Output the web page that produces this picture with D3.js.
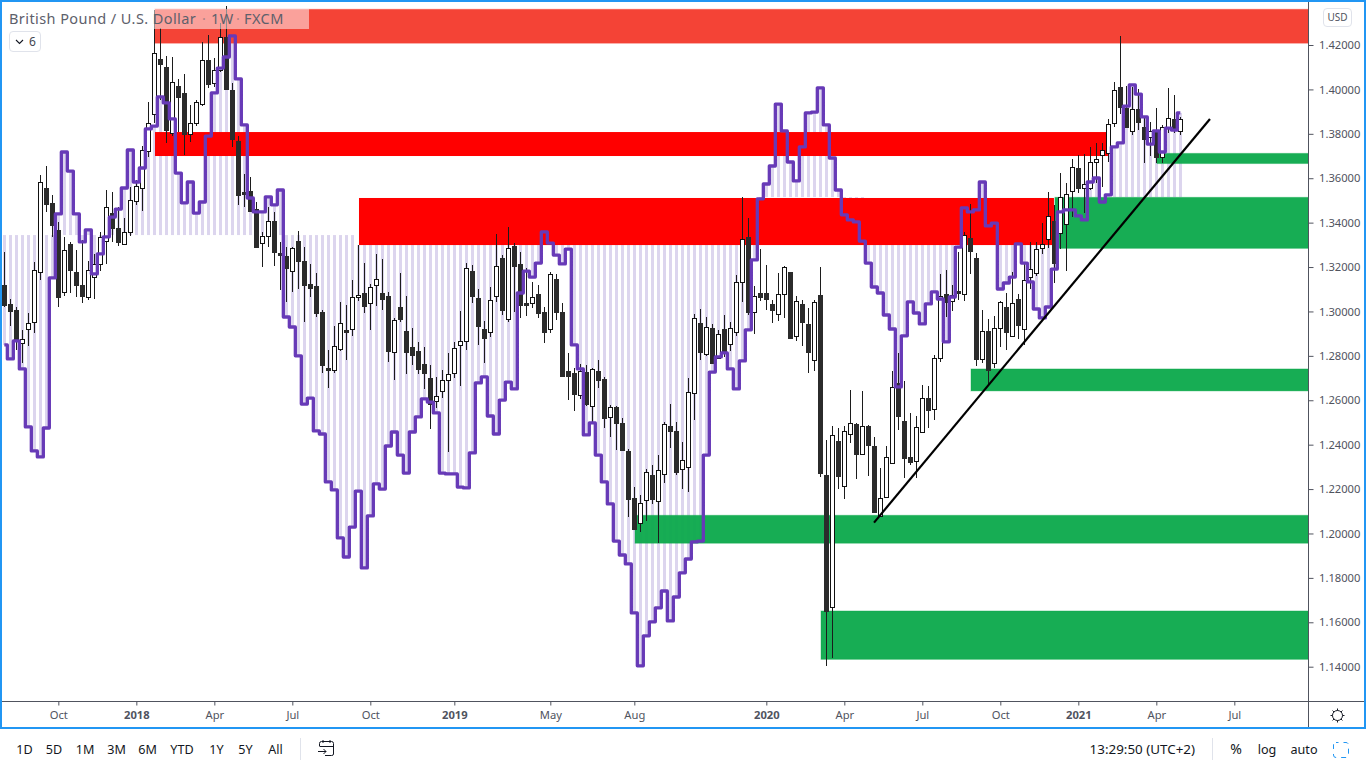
<!DOCTYPE html>
<html><head><meta charset="utf-8">
<script src="https://cdn.jsdelivr.net/npm/d3@7/dist/d3.min.js"></script>
<style>
html,body{margin:0;padding:0;background:#fff;overflow:hidden}
svg{display:block;position:absolute;left:0;top:0}
text{font-family:"Noto Sans",Roboto,sans-serif}
</style></head><body>
<svg id="c" width="1366" height="768"></svg>
<script>
const opens=[1.3119,1.3034,1.3007,1.2858,1.2921,1.2953,1.3178,1.3556,1.3489,1.3367,1.3088,1.3304,1.3178,1.3119,1.3065,1.3155,1.3214,1.3317,1.3443,1.3376,1.3304,1.3358,1.3498,1.3556,1.3723,1.3889,1.4137,1.4101,1.3804,1.4016,1.3984,1.3799,1.3849,1.3934,1.4132,1.4029,1.4087,1.4236,1.3997,1.3768,1.3538,1.3542,1.3461,1.3309,1.3340,1.3407,1.3263,1.3250,1.3182,1.3317,1.3227,1.3124,1.3115,1.2998,1.2745,1.2736,1.2831,1.2917,1.2921,1.3065,1.3083,1.3038,1.3119,1.3083,1.3070,1.2817,1.3020,1.2912,1.2840,1.2822,1.2763,1.2700,1.2597,1.2642,1.2691,1.2723,1.2849,1.2867,1.3182,1.3061,1.2921,1.2908,1.3070,1.3241,1.2966,1.3295,1.3214,1.3038,1.3038,1.3079,1.2998,1.2921,1.3146,1.2998,1.2732,1.2723,1.2624,1.2727,1.2574,1.2732,1.2696,1.2525,1.2570,1.2498,1.2372,1.2160,1.2047,1.2151,1.2263,1.2146,1.2268,1.2484,1.2462,1.2290,1.2299,1.2633,1.2948,1.2808,1.2926,1.2790,1.2921,1.2853,1.2908,1.3133,1.3336,1.2998,1.3083,1.3083,1.3034,1.2989,1.3079,1.3178,1.2890,1.3034,1.2944,1.2781,1.3074,1.2263,1.1670,1.2417,1.2214,1.2448,1.2493,1.2358,1.2484,1.2394,1.2079,1.2164,1.2318,1.2678,1.2507,1.2344,1.2327,1.2457,1.2610,1.2561,1.2790,1.3079,1.3047,1.3092,1.3079,1.3331,1.3241,1.2786,1.2912,1.2768,1.2926,1.3020,1.2890,1.3056,1.2921,1.3155,1.3173,1.3286,1.3326,1.3407,1.3353,1.3394,1.3542,1.3646,1.3556,1.3556,1.3673,1.3705,1.3714,1.3849,1.4011,1.3916,1.3813,1.3912,1.3831,1.3786,1.3813,1.3696,1.3831,1.3867,1.3813];
const highs=[1.3268,1.3056,1.3020,1.2917,1.2993,1.3223,1.3615,1.3655,1.3525,1.3403,1.3336,1.3313,1.3277,1.3322,1.3227,1.3259,1.3358,1.3547,1.3538,1.3470,1.3421,1.3561,1.3592,1.3745,1.3943,1.4358,1.4277,1.4151,1.4146,1.4047,1.4070,1.3930,1.3952,1.4214,1.4245,1.4142,1.4299,1.4376,1.4029,1.3790,1.3619,1.3605,1.3493,1.3358,1.3470,1.3448,1.3313,1.3290,1.3290,1.3362,1.3290,1.3214,1.3173,1.3007,1.2826,1.2935,1.3043,1.3029,1.3142,1.3299,1.3218,1.3124,1.3259,1.3236,1.3088,1.2971,1.3173,1.3070,1.2926,1.2863,1.2840,1.2759,1.2705,1.2736,1.2813,1.2863,1.3002,1.3218,1.3209,1.3101,1.2957,1.3110,1.3349,1.3254,1.3380,1.3308,1.3268,1.3196,1.3133,1.3119,1.3020,1.3178,1.3169,1.3038,1.2813,1.2745,1.2763,1.2759,1.2745,1.2781,1.2705,1.2579,1.2574,1.2520,1.2380,1.2209,1.2173,1.2290,1.2308,1.2353,1.2502,1.2583,1.2502,1.2412,1.2700,1.2989,1.3011,1.2975,1.2944,1.2917,1.2984,1.2953,1.3164,1.3516,1.3421,1.3115,1.3281,1.3209,1.3052,1.3173,1.3205,1.3178,1.3070,1.3052,1.3016,1.3052,1.3200,1.2421,1.2484,1.2475,1.2484,1.2646,1.2498,1.2642,1.2489,1.2435,1.2295,1.2394,1.2732,1.2813,1.2687,1.2543,1.2529,1.2669,1.2664,1.2804,1.3169,1.3187,1.3119,1.3268,1.3358,1.3484,1.3263,1.3007,1.2966,1.2980,1.3047,1.3083,1.3178,1.3079,1.3218,1.3313,1.3313,1.3399,1.3538,1.3480,1.3623,1.3578,1.3687,1.3705,1.3709,1.3741,1.3759,1.3759,1.3867,1.4034,1.4241,1.4016,1.4011,1.4002,1.3876,1.3853,1.3916,1.3840,1.4007,1.3975,1.3876];
const lows=[1.3020,1.2935,1.2826,1.2768,1.2845,1.2903,1.3142,1.3448,1.3336,1.3020,1.3070,1.3083,1.3065,1.3038,1.3052,1.3056,1.3182,1.3214,1.3313,1.3295,1.3304,1.3340,1.3480,1.3453,1.3696,1.3849,1.3952,1.3759,1.3790,1.3808,1.3705,1.3763,1.3835,1.3925,1.4007,1.4011,1.4078,1.3997,1.3741,1.3480,1.3470,1.3448,1.3290,1.3200,1.3290,1.3205,1.3097,1.3043,1.3088,1.3101,1.2953,1.3065,1.2975,1.2723,1.2655,1.2723,1.2822,1.2781,1.2890,1.3047,1.2993,1.2917,1.3025,1.3007,1.2772,1.2691,1.2953,1.2718,1.2759,1.2718,1.2651,1.2471,1.2565,1.2610,1.2367,1.2700,1.2664,1.2826,1.3038,1.2849,1.2768,1.2885,1.3043,1.2984,1.2953,1.2998,1.2971,1.2980,1.3016,1.2971,1.2858,1.2903,1.2962,1.2705,1.2601,1.2552,1.2606,1.2574,1.2498,1.2655,1.2475,1.2435,1.2376,1.2372,1.2074,1.2016,1.2007,1.2056,1.2133,1.1957,1.2227,1.2385,1.2263,1.2200,1.2187,1.2511,1.2781,1.2799,1.2768,1.2786,1.2795,1.2822,1.2890,1.3043,1.2984,1.2899,1.3047,1.3007,1.2948,1.2957,1.2971,1.2876,1.2867,1.2845,1.2723,1.2732,1.2254,1.1404,1.1440,1.2200,1.2155,1.2408,1.2245,1.2358,1.2259,1.2097,1.2079,1.2160,1.2318,1.2466,1.2250,1.2308,1.2250,1.2457,1.2475,1.2511,1.2772,1.2975,1.3002,1.3052,1.3047,1.3169,1.2754,1.2768,1.2669,1.2745,1.2840,1.2826,1.2890,1.2876,1.2849,1.3101,1.3160,1.3259,1.3286,1.3128,1.3281,1.3182,1.3425,1.3533,1.3443,1.3547,1.3579,1.3561,1.3673,1.3831,1.3889,1.3831,1.3795,1.3817,1.3669,1.3700,1.3669,1.3669,1.3804,1.3804,1.3795];
const closes=[1.3029,1.3002,1.2872,1.2876,1.2948,1.3187,1.3583,1.3484,1.3390,1.3065,1.3277,1.3187,1.3119,1.3070,1.3187,1.3214,1.3336,1.3470,1.3376,1.3313,1.3358,1.3502,1.3565,1.3727,1.3849,1.4164,1.4115,1.3817,1.4034,1.3966,1.3799,1.3849,1.3943,1.4132,1.4025,1.4087,1.4236,1.4002,1.3777,1.3525,1.3529,1.3452,1.3290,1.3340,1.3407,1.3268,1.3254,1.3196,1.3286,1.3227,1.3119,1.3106,1.2993,1.2759,1.2736,1.2845,1.2948,1.2908,1.3065,1.3074,1.3025,1.3110,1.3146,1.3056,1.2822,1.2962,1.2966,1.2817,1.2804,1.2741,1.2723,1.2583,1.2619,1.2691,1.2718,1.2835,1.2867,1.3196,1.3070,1.2935,1.2881,1.3052,1.3205,1.3007,1.3286,1.3205,1.3029,1.3029,1.3065,1.2993,1.2908,1.3169,1.2998,1.2709,1.2709,1.2628,1.2732,1.2583,1.2741,1.2691,1.2520,1.2570,1.2498,1.2376,1.2155,1.2020,1.2137,1.2277,1.2155,1.2286,1.2493,1.2462,1.2277,1.2331,1.2637,1.2971,1.2817,1.2930,1.2768,1.2899,1.2822,1.2926,1.3133,1.3326,1.2998,1.3070,1.3065,1.3056,1.3007,1.3079,1.3200,1.2881,1.3047,1.2953,1.2817,1.3043,1.2272,1.1652,1.2444,1.2259,1.2462,1.2498,1.2358,1.2484,1.2399,1.2097,1.2160,1.2344,1.2660,1.2529,1.2340,1.2322,1.2480,1.2610,1.2556,1.2790,1.3070,1.3043,1.3074,1.3083,1.3344,1.3272,1.2786,1.2912,1.2736,1.2926,1.3043,1.2908,1.3038,1.2939,1.3142,1.3191,1.3281,1.3304,1.3430,1.3218,1.3516,1.3529,1.3650,1.3556,1.3574,1.3673,1.3687,1.3727,1.3844,1.3997,1.3921,1.3831,1.3912,1.3853,1.3777,1.3813,1.3696,1.3831,1.3871,1.3826,1.3867];
const lagging=[1.2849,1.2786,1.2867,1.2741,1.2480,1.2372,1.2345,1.2475,1.3151,1.3439,1.3718,1.3632,1.3439,1.3313,1.3367,1.3169,1.3259,1.3336,1.3425,1.3461,1.3556,1.3727,1.3583,1.3646,1.3822,1.3835,1.3966,1.3939,1.3867,1.3623,1.3489,1.3583,1.3443,1.3493,1.3790,1.3984,1.4096,1.4146,1.4241,1.4047,1.3840,1.3511,1.3448,1.3448,1.3516,1.3480,1.3547,1.2975,1.2930,1.2800,1.2583,1.2610,1.2462,1.2448,1.2232,1.2196,1.1980,1.1894,1.2029,1.2191,1.1845,1.2079,1.2223,1.2200,1.2394,1.2457,1.2353,1.2272,1.2457,1.2525,1.2606,1.2592,1.2543,1.2272,1.2268,1.2268,1.2209,1.2205,1.2363,1.2678,1.2705,1.2529,1.2448,1.2601,1.2682,1.2651,1.3083,1.3182,1.3155,1.3218,1.3358,1.3308,1.3254,1.3214,1.3281,1.2849,1.2741,1.2444,1.2498,1.2353,1.2232,1.2133,1.1966,1.1903,1.1863,1.1642,1.1404,1.1539,1.1602,1.1665,1.1741,1.1606,1.1714,1.1823,1.1885,1.1962,1.1966,1.2353,1.2727,1.2795,1.2813,1.2741,1.2651,1.2777,1.2917,1.3232,1.3507,1.3574,1.3655,1.3934,1.3813,1.3673,1.3588,1.3741,1.3894,1.3898,1.4007,1.3840,1.3691,1.3547,1.3435,1.3412,1.3403,1.3317,1.3218,1.3110,1.3083,1.2984,1.2921,1.2660,1.2890,1.3043,1.2993,1.2944,1.3034,1.3088,1.3056,1.2863,1.3065,1.3290,1.3466,1.3448,1.3457,1.3583,1.3385,1.3398,1.3101,1.3128,1.3155,1.3304,1.3218,1.3133,1.3011,1.2971,1.3020,1.3191,1.3448,1.3457,1.3457,1.3430,1.3412,1.3583,1.3601,1.3493,1.3525,1.3741,1.3759,1.3925,1.4020,1.3979,1.3876,1.3754,1.3813,1.3718,1.3826,1.3817,1.3894];
const baseFrom=[0,59,126,144,176];
const baseLevel=[1.3344,1.3299,1.3515,1.3299,1.3515];
const zoneFrom=[25.11,25.11,59.11,175.1,105.11,136.11,161.11,192.1];
const zoneTo=[217.28,183.94,174.94,217.28,217.28,217.28,217.28,217.28];
const zoneHigh=[1.4361,1.3808,1.3511,1.3514,1.2082,1.1651,1.2741,1.3712];
const zoneLow=[1.4208,1.3700,1.3299,1.3284,1.1956,1.1433,1.2642,1.3666];
const zoneKind=["top","red","red","green","green","green","green","green"];
const trendIdx=[144.95,200.94];
const trendPrice=[1.2049,1.3867];
const priceTicks=[1.14,1.16,1.18,1.20,1.22,1.24,1.26,1.28,1.30,1.32,1.34,1.36,1.38,1.40,1.42];
const timeTickIdx=[9,22,35,48,61,75,91,105,127,140,153,166,179,192,205];
const timeTickLabels=["Oct","2018","Apr","Jul","Oct","2019","May","Aug","2020","Apr","Jul","Oct","2021","Apr","Jul"];
const rangeLabels=["1D","5D","1M","3M","6M","YTD","1Y","5Y","All"];
const rangeCentres=[24.5,54,85,116.5,147.5,182,216.5,245.5,275.5];

const W=1366,H=768,PR=1308,PB=701;
const x=d3.scaleLinear().domain([0,217.28]).range([4.33,PR]);
const y=d3.scaleLinear().domain([1.14,1.42]).range([666.7,45]);
const svg=d3.select("#c");
const INK="#131722",MUTED="#50535e",AX="#50535e";
svg.append("defs").append("clipPath").attr("id","plot").append("rect").attr("x",2).attr("y",2).attr("width",PR-2).attr("height",PB-2);
const plot=svg.append("g").attr("clip-path","url(#plot)");
const idx=d3.range(opens.length);
const cx=i=>Math.floor(x(i))+.5;
const baseOf=i=>baseLevel[d3.bisectRight(baseFrom,i)-1];

plot.append("g").selectAll("rect").data(idx).join("rect")
 .attr("x",i=>cx(i)-1.5).attr("width",3)
 .attr("y",i=>y(Math.max(lagging[i],baseOf(i))))
 .attr("height",i=>Math.abs(y(lagging[i])-y(baseOf(i))))
 .attr("fill","#dcd5ee");

const zfill={top:"#f44336",red:"#ff0000",green:"#0ba94b"};
const zg=plot.append("g");
zg.selectAll("rect").data(zoneFrom.map((d,i)=>i)).join("rect")
 .attr("x",i=>x(zoneFrom[i])).attr("width",i=>x(zoneTo[i])-x(zoneFrom[i]))
 .attr("y",i=>y(zoneHigh[i])).attr("height",i=>y(zoneLow[i])-y(zoneHigh[i]))
 .attr("fill",i=>zfill[zoneKind[i]])
 .attr("fill-opacity",i=>zoneKind[i]=="green"?.95:1)
 .attr("stroke",i=>zoneKind[i]=="red"?"none":zfill[zoneKind[i]])
 .attr("stroke-opacity",.35).attr("stroke-width",1);

const cg=plot.append("g");
const cand=cg.selectAll("g").data(idx).join("g");
cand.append("line").attr("x1",cx).attr("x2",cx)
 .attr("y1",i=>Math.round(y(highs[i]))).attr("y2",i=>Math.round(y(lows[i])))
 .attr("stroke","#1c1c1c").attr("stroke-width",1);
cand.append("rect").attr("x",i=>cx(i)-2).attr("width",4)
 .attr("y",i=>Math.round(y(Math.max(opens[i],closes[i])))+.5)
 .attr("height",i=>Math.max(1,Math.round(y(Math.min(opens[i],closes[i])))-Math.round(y(Math.max(opens[i],closes[i])))))
 .attr("fill",i=>closes[i]>=opens[i]?"#ffffff":"#2b2b2b")
 .attr("stroke",i=>closes[i]>=opens[i]?"#111":"#2b2b2b").attr("stroke-width",1);

plot.append("path").datum(idx)
 .attr("d",d3.line().x(i=>x(i)).y(i=>y(lagging[i])).curve(d3.curveStep))
 .attr("fill","none").attr("stroke","#673ab7").attr("stroke-width",3.3).attr("stroke-linejoin","round");

plot.append("path").datum([0,1])
 .attr("d",d3.line().x(k=>x(trendIdx[k])).y(k=>y(trendPrice[k])))
 .attr("stroke","#000").attr("stroke-width",2.2).attr("fill","none");

// legend
svg.append("rect").attr("x",5).attr("y",9).attr("width",304).attr("height",20).attr("fill","#fff").attr("fill-opacity",.5);
const legend=svg.append("g").attr("font-size",14.5).attr("fill","#5d606b");
legend.append("text").attr("x",9).attr("y",23.5).attr("letter-spacing",.42).text("British Pound / U.S. Dollar");
legend.append("text").attr("x",204).attr("y",23.5).attr("text-anchor","middle").attr("fill-opacity",.5).text("·");
legend.append("text").attr("x",211).attr("y",23.5).attr("letter-spacing",.42).text("1W");
legend.append("text").attr("x",238).attr("y",23.5).attr("text-anchor","middle").attr("fill-opacity",.5).text("·");
legend.append("text").attr("x",244).attr("y",23.5).attr("letter-spacing",.42).text("FXCM");
svg.append("rect").attr("x",9.5).attr("y",31.5).attr("width",31).attr("height",20).attr("rx",3.5).attr("fill","#fff").attr("stroke","#e0e3eb");
svg.append("path").attr("d","M16 40 l3.5 3.5 l3.5 -3.5").attr("fill","none").attr("stroke",INK).attr("stroke-width",1.1);
svg.append("text").attr("x",29).attr("y",46).attr("font-size",12).attr("fill","#434651").text("6");

// axes
const ya=d3.axisRight(y).tickValues(priceTicks).tickFormat(d3.format(".5f")).tickSize(5).tickPadding(5.5);
const yg=svg.append("g").attr("transform",`translate(${PR+.5},0)`).call(ya);
const xa=d3.axisBottom(x).tickValues(timeTickIdx).tickFormat((d,i)=>timeTickLabels[i]).tickSize(4).tickPadding(6);
const xg=svg.append("g").attr("transform",`translate(0,${PB+.5})`).call(xa);
[yg,xg].forEach(g=>{g.select(".domain").remove();g.attr("font-family",null);g.selectAll("line").attr("stroke",AX);g.selectAll("text").attr("fill",MUTED).attr("font-size",11.2);});
xg.selectAll("text").filter(d=>/^\d/.test(timeTickLabels[timeTickIdx.indexOf(d)])).attr("font-weight",700);
svg.append("line").attr("x1",PR+.5).attr("x2",PR+.5).attr("y1",2).attr("y2",727).attr("stroke",AX);
svg.append("line").attr("x1",2).attr("x2",1364).attr("y1",PB+.5).attr("y2",PB+.5).attr("stroke",AX);

svg.append("rect").attr("x",1323.5).attr("y",8.5).attr("width",28).attr("height",18).attr("rx",3.5).attr("fill","#fff").attr("stroke","#e0e3eb");
svg.append("text").attr("x",1337.5).attr("y",21).attr("text-anchor","middle").attr("font-size",10).attr("fill","#50535e").text("USD");

const sun=svg.append("g").attr("transform","translate(1337.5,715.5)").attr("stroke",INK).attr("fill","none");
sun.append("circle").attr("r",5);
d3.range(8).forEach(k=>{const a=k*Math.PI/4;sun.append("line").attr("x1",5*Math.cos(a)).attr("y1",5*Math.sin(a)).attr("x2",7*Math.cos(a)).attr("y2",7*Math.sin(a));});

svg.append("rect").attr("x",1).attr("y",1).attr("width",1364).attr("height",727).attr("fill","none").attr("stroke","#2196f3").attr("stroke-width",2);

// toolbar
const tb=svg.append("g").attr("font-size",12.6).attr("fill",INK);
tb.selectAll("text").data(rangeLabels).join("text").attr("x",(d,i)=>rangeCentres[i]).attr("y",754).attr("text-anchor","middle").text(d=>d);
svg.append("line").attr("x1",300.5).attr("x2",300.5).attr("y1",738).attr("y2",760).attr("stroke","#e0e3eb");
svg.append("line").attr("x1",1212.5).attr("x2",1212.5).attr("y1",738).attr("y2",760).attr("stroke","#e0e3eb");
svg.append("path").attr("d","M319.5 746 V743.5 Q319.5 741.5 321.5 741.5 H331.5 Q333.5 741.5 333.5 743.5 V754 Q333.5 755.5 331.5 755.5 H325 M323 740 V743 M330 740 V743 M319.5 746.5 H333.5 M318 751.5 H326 M323.5 749 L326 751.5 L323.5 754")
 .attr("fill","none").attr("stroke",INK).attr("stroke-width",1);
svg.append("text").attr("x",1195).attr("y",754).attr("text-anchor","end").attr("font-size",13.4).attr("fill",INK).text("13:29:50 (UTC+2)");
svg.append("text").attr("x",1236).attr("y",754).attr("text-anchor","middle").attr("font-size",14).attr("fill",INK).text("%");
svg.append("text").attr("x",1267).attr("y",754).attr("text-anchor","middle").attr("font-size",12.6).attr("fill",INK).text("log");
svg.append("text").attr("x",1304).attr("y",754).attr("text-anchor","middle").attr("font-size",12.6).attr("fill",INK).text("auto");
svg.append("rect").attr("x",1333.5).attr("y",742.5).attr("width",15).attr("height",15).attr("rx",2.5).attr("fill","none").attr("stroke","#2196f3").attr("stroke-dasharray","5 5").attr("stroke-dashoffset",2.5);
</script>
</body></html>
